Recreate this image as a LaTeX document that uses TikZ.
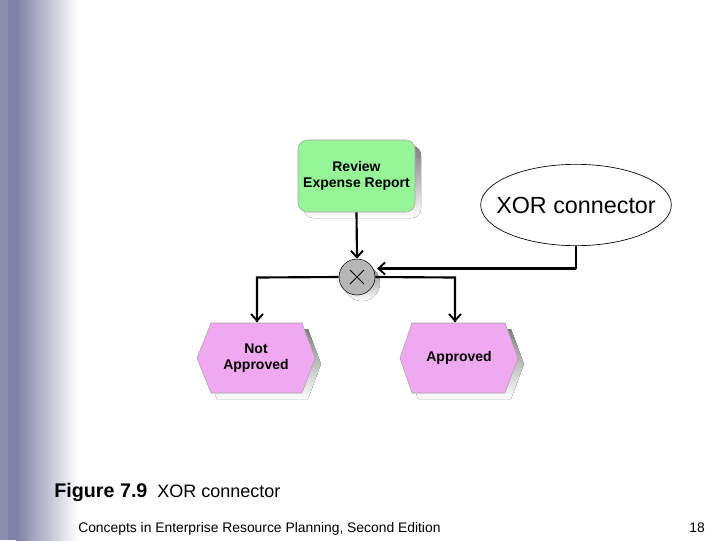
\documentclass[tikz,border=0pt]{standalone}
\usepackage{fontspec}
\setmainfont{Liberation Sans}
\usetikzlibrary{arrows.meta,shapes.geometric,calc}
\definecolor{bar}{RGB}{128,128,166}
\definecolor{evgreen}{RGB}{150,245,150}
\definecolor{evpink}{RGB}{240,168,240}
\definecolor{xorgray}{RGB}{182,182,182}
\definecolor{shade}{RGB}{165,165,165}
\begin{document}
\begin{tikzpicture}[x=0.75pt,y=-0.75pt,
  conn/.style={line width=1.6pt,-{Straight Barb[length=5pt,width=9pt,line width=1.4pt]}},
  plain/.style={line width=1.6pt},
  lbl/.style={font=\bfseries\fontsize{10.5}{12}\selectfont,align=center}]
\useasboundingbox (0,0) rectangle (720,540);
\fill[white] (0,0) rectangle (720,540);
% left gradient band
\fill[bar!90] (0,0) rectangle (8,540);
\fill[bar] (8,0) rectangle (16,540);
\shade[left color=bar,right color=white] (16,0) rectangle (78,540);
% Review box
\fill[shade,rounded corners=7pt] (304,146) rectangle (421,218);
\node[draw=gray!70,fill=evgreen,rounded corners=7pt,minimum width=87.75pt,minimum height=54pt,lbl] (review) at (356.5,176) {Review\\Expense Report};
% XOR circle
\fill[shade] (362,283) circle (18);
\node[draw,fill=xorgray,circle,minimum size=27pt,inner sep=0pt] (xor) at (357,277) {};
\draw[line width=0.6pt] ($(xor)+(-7,-7)$) -- ($(xor)+(7,7)$) ($(xor)+(7,-7)$) -- ($(xor)+(-7,7)$);
% hexagons
\fill[shade] (203,364) -- (217,329) -- (308,329) -- (321,364) -- (308,399) -- (217,399) -- cycle;
\draw[gray!70,fill=evpink] (197,358) -- (211,323) -- (302,323) -- (315,358) -- (302,393) -- (211,393) -- cycle;
\node[lbl] (notappr) at (256,358) {Not\\Approved};
\fill[shade] (406,364) -- (418,329) -- (511,329) -- (524,364) -- (511,399) -- (418,399) -- cycle;
\draw[gray!70,fill=evpink] (400,358) -- (412,323) -- (505,323) -- (518,358) -- (505,393) -- (412,393) -- cycle;
\node[lbl] (appr) at (459,358) {Approved};
\coordinate (nat) at (257,322);
\coordinate (apt) at (455,322);
% connectors
\draw[conn] (review.south) -- (xor.north);
\draw[plain] (xor.west) -- (257,277.5) -- (nat);
\draw[plain] (xor.east) -- (455,277.5) -- (apt);
\draw[conn] (257,300) -- (nat);
\draw[conn] (455,300) -- (apt);
% callout
\node[draw,ellipse,line width=0.5pt,minimum width=143pt,minimum height=61pt,inner sep=0pt] (call) at (576,205) {};
\node[font=\fontsize{17.5}{20}\selectfont] (calltxt) at (call.center) {XOR connector};
\draw[line width=1.6pt] (call.south) -- (576,268.5);
\draw[conn] (576,268.5) -- (377,268.5);
% captions
\node[anchor=base west,inner sep=0pt,font=\bfseries\fontsize{14.8}{16}\selectfont] (fig) at (54,497) {Figure 7.9};
\node[anchor=base west,inner sep=0pt,font=\fontsize{13.5}{15}\selectfont] (figt) at (157,497) {XOR connector};
\node[anchor=base west,inner sep=0pt,font=\fontsize{10.4}{12}\selectfont] (foot) at (78,532) {Concepts in Enterprise Resource Planning, Second Edition};
\node[anchor=base east,inner sep=0pt,font=\fontsize{10.4}{12}\selectfont] (pg) at (705,532) {18};
\end{tikzpicture}
\end{document}
